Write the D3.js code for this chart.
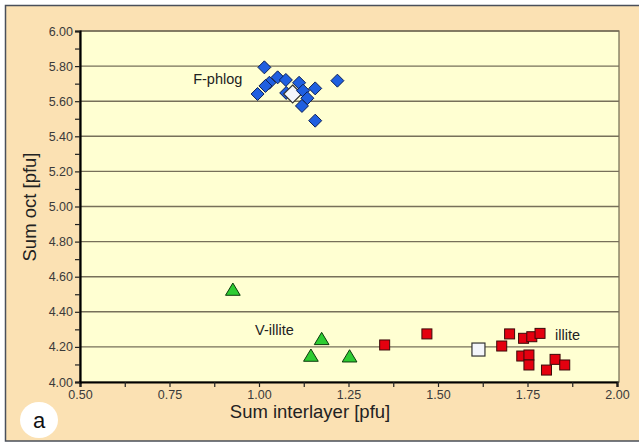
<!DOCTYPE html>
<html><head><meta charset="utf-8">
<script src="https://cdn.jsdelivr.net/npm/d3@7"></script>
<style>body{margin:0;background:#fff;}svg{display:block;font-family:Arial,"Liberation Sans",sans-serif;}</style>
</head><body>
<svg id="c" width="639" height="443"></svg>
<script>
// Data
const fphlogX = [1.015, 0.996, 1.029, 1.018, 1.052, 1.075, 1.076, 1.112, 1.123, 1.157, 1.135, 1.120, 1.219, 1.157];
const fphlogY = [5.793, 5.641, 5.705, 5.687, 5.736, 5.721, 5.647, 5.705, 5.660, 5.673, 5.617, 5.573, 5.717, 5.489];
const fphlogMean = [1.094, 5.641];
const villiteX = [0.927, 1.175, 1.145, 1.253];
const villiteY = [4.524, 4.243, 4.148, 4.144];
const illiteX = [1.351, 1.469, 1.700, 1.678, 1.739, 1.762, 1.785, 1.734, 1.754, 1.754, 1.803, 1.827, 1.854];
const illiteY = [4.211, 4.274, 4.274, 4.205, 4.249, 4.258, 4.277, 4.148, 4.154, 4.097, 4.068, 4.129, 4.097];
const illiteMean = [1.613, 4.185];
const xTicks = [0.50, 0.75, 1.00, 1.25, 1.50, 1.75, 2.00];
const yTicks = [4.00, 4.20, 4.40, 4.60, 4.80, 5.00, 5.20, 5.40, 5.60, 5.80, 6.00];
const xTitle = "Sum interlayer [pfu]";
const yTitle = "Sum oct [pfu]";
const labels = [{t:"F-phlog", x:0.816, y:5.726}, {t:"V-illite", x:0.989, y:4.296}, {t:"illite", x:1.827, y:4.27}];

const svg = d3.select("#c");
const L = 80, R = 617, T = 31, B = 382;
const x = d3.scaleLinear().domain([0.5, 2.0]).range([L, R]);
const y = d3.scaleLinear().domain([4.0, 6.0]).range([B, T]);

// background + frame
svg.append("rect").attr("x",0).attr("y",0).attr("width",639).attr("height",443).attr("fill","#fff");
svg.append("rect").attr("x",5.5).attr("y",5.5).attr("width",640).attr("height",435.5)
  .attr("fill","#fbe1b3").attr("stroke","#4a4f5a").attr("stroke-width",1.5);

// plot area
svg.append("rect").attr("x",L).attr("y",T).attr("width",R-L+2).attr("height",B-T)
  .attr("fill","#ffffd2").attr("stroke","#6e6a50").attr("stroke-width",1.2);

// gridlines
svg.append("g").selectAll("line").data(yTicks.slice(1)).join("line")
  .attr("x1",L).attr("x2",R+2).attr("y1",d=>y(d)).attr("y2",d=>y(d))
  .attr("stroke","#77705a").attr("stroke-width",1.4);

// axes
const xMinor = d3.range(0.5, 2.0001, 0.125);
const yMinor = d3.range(4.0, 6.0001, 0.1);
const xAxis = d3.axisBottom(x).tickValues(xMinor).tickSize(5).tickFormat(d => xTicks.some(t=>Math.abs(t-d)<1e-6) ? d3.format(".2f")(d) : "");
const yAxis = d3.axisLeft(y).tickValues(yMinor).tickSize(5).tickFormat(d => yTicks.some(t=>Math.abs(t-d)<1e-6) ? d3.format(".2f")(d) : "");
const gx = svg.append("g").attr("transform",`translate(0,${B})`).call(xAxis);
const gy = svg.append("g").attr("transform",`translate(${L},0)`).call(yAxis);
[gx, gy].forEach(g => {
  g.select(".domain").attr("stroke","#000").attr("stroke-width",2.2);
  g.selectAll(".tick line").attr("stroke","#222").attr("stroke-width",1.2);
  g.selectAll(".tick text").attr("fill","#3a3a3a").style("font-size","12.5px").style("font-family","Arial, 'Liberation Sans', sans-serif");
});
gx.selectAll(".tick text").attr("dy","0.9em").attr("y",6);
gy.selectAll(".tick text").attr("x",-7);

// titles
svg.append("text").attr("x",310).attr("y",418).attr("text-anchor","middle")
  .style("font-size","18.5px").attr("fill","#222").text(xTitle);
svg.append("text").attr("transform","translate(36,207) rotate(-90)").attr("text-anchor","middle")
  .style("font-size","18.5px").attr("fill","#222").text(yTitle);

// markers
const diamond = (cx,cy,r) => `M${cx},${cy-r}L${cx+r},${cy}L${cx},${cy+r}L${cx-r},${cy}Z`;
const tri = (cx,cy,r) => `M${cx},${cy-r}L${cx+r*1.05},${cy+r*0.75}L${cx-r*1.05},${cy+r*0.75}Z`;
const g = svg.append("g");

g.selectAll(".vi").data(villiteX.map((d,i)=>[d,villiteY[i]])).join("path")
  .attr("d",d=>tri(x(d[0]),y(d[1]),7)).attr("fill","#2ecc32").attr("stroke","#0c3a0c").attr("stroke-width",1);

g.selectAll(".il").data(illiteX.map((d,i)=>[d,illiteY[i]])).join("rect")
  .attr("x",d=>x(d[0])-5).attr("y",d=>y(d[1])-5).attr("width",10).attr("height",10)
  .attr("fill","#e4000f").attr("stroke","#3a0a0a").attr("stroke-width",1);
g.append("rect").attr("x",x(illiteMean[0])-6.5).attr("y",y(illiteMean[1])-6.5).attr("width",13).attr("height",13)
  .attr("fill","#f4f6fb").attr("stroke","#333").attr("stroke-width",1.2);

const fp = fphlogX.map((d,i)=>[d,fphlogY[i]]);
g.selectAll(".fp").data(fp.slice(0,7)).join("path")
  .attr("d",d=>diamond(x(d[0]),y(d[1]),6.5)).attr("fill","#1f5fe0").attr("stroke","#0b1f55").attr("stroke-width",1);
g.append("path").attr("d",diamond(x(fphlogMean[0]),y(fphlogMean[1]),9))
  .attr("fill","#f4f6fb").attr("stroke","#333").attr("stroke-width",1.2);
g.selectAll(".fp2").data(fp.slice(7)).join("path")
  .attr("d",d=>diamond(x(d[0]),y(d[1]),6.5)).attr("fill","#1f5fe0").attr("stroke","#0b1f55").attr("stroke-width",1);

// labels
svg.append("g").selectAll("text").data(labels).join("text")
  .attr("x",d=>x(d.x)).attr("y",d=>y(d.y)).attr("dy","0.35em")
  .style("font-size","14.5px").attr("fill","#222").text(d=>d.t);

// "a" badge
svg.append("ellipse").attr("cx",39).attr("cy",420).attr("rx",19).attr("ry",18).attr("fill","#fff");
svg.append("text").attr("x",39).attr("y",420).attr("dy","0.35em").attr("text-anchor","middle")
  .style("font-size","22px").attr("fill","#111").text("a");
</script>
</body></html>
